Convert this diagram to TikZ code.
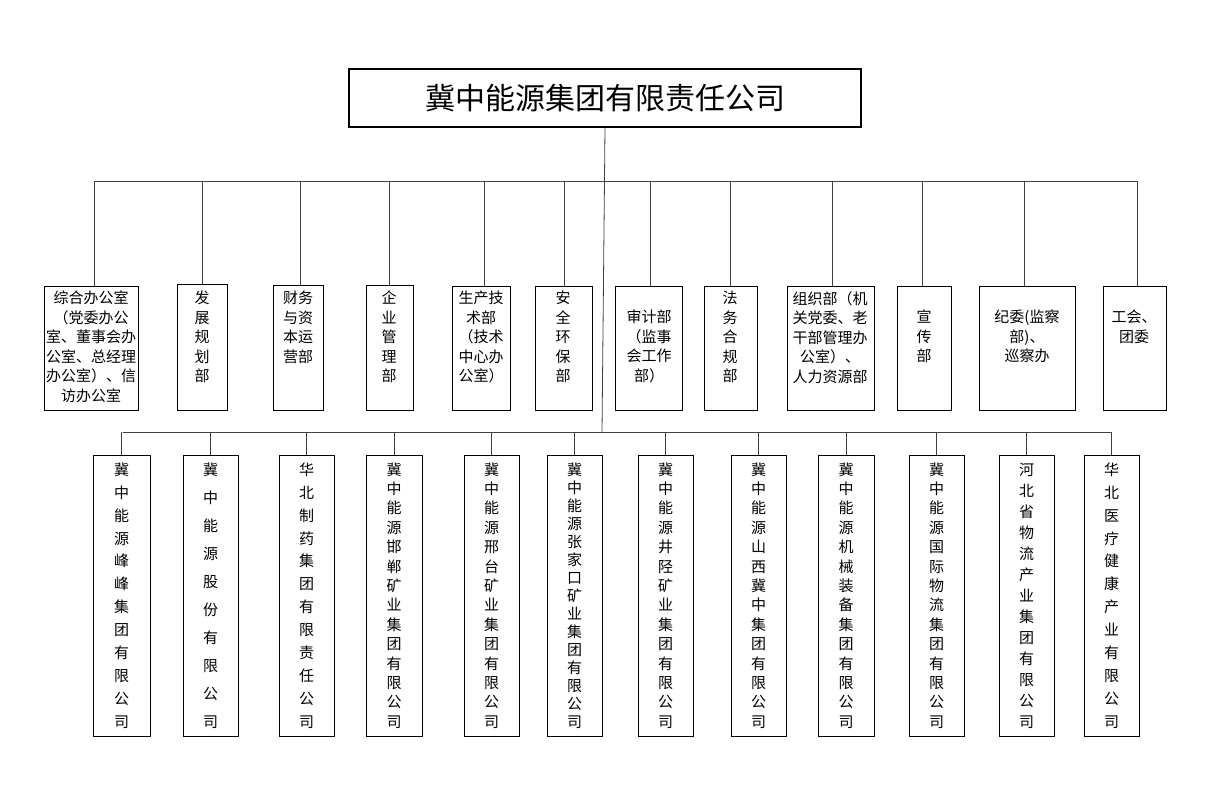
\documentclass[tikz,border=0pt]{standalone}
\usepackage{fontspec}
\setmainfont{Noto Sans CJK SC}
\begin{document}
\begin{tikzpicture}[x=1pt,y=-1pt,
  box/.style={draw=black,line width=0.9pt,rectangle,inner sep=0pt},
  ln/.style={draw=black!75,line width=0.8pt},
  mt/.style={anchor=north,align=center,inner sep=0pt,font=\fontsize{15}{19.5}\selectfont},
]
\useasboundingbox (0,0) rectangle (1210,799);
\node[box,line width=2.2pt,minimum width=512pt,minimum height=58pt,font=\fontsize{30}{34}\selectfont] (top) at (605,98) {冀中能源集团有限责任公司};
\coordinate (busA) at (602,181);
\coordinate (busB) at (602,432);
\draw[ln] (top.south) -- (busB);
\draw[ln] (94,181) -- (1137,181);
\draw[ln] (123,432) -- (1111,432);
% middle boxes: x1,x2,ytop,lineX
\foreach \i/\xa/\xb/\yt/\lx in {1/44/138/286/94,2/177/227/284/202,3/273/323/285/300,4/366/413/285/389,5/452/510/286/484,6/535/592/286/564,7/615/682/286/650,8/704/757/286/730,9/787/874/286/832,10/897/951/286/922,11/979/1075/286/1024,12/1103/1166/286/1137}{
  \node[box,minimum width={\xb-\xa},minimum height={410-\yt}] (m\i) at ({(\xa+\xb)/2},{(\yt+410)/2}) {};
  \draw[ln] (m\i.north -| \lx,0) -- (\lx,181);
}
\node[mt] (t1) at (91,291) {综合办公室\\（党委办公\\室、董事会办\\公室、总经理\\办公室）、信\\访办公室};
\node[mt] (t2) at (202,291) {发\\展\\规\\划\\部};
\node[mt] (t3) at (298,291) {财务\\与资\\本运\\营部};
\node[mt] (t4) at (389,291) {企\\业\\管\\理\\部};
\node[mt] (t5) at (481,291) {生产技\\术部\\（技术\\中心办\\公室）};
\node[mt] (t6) at (563,291) {安\\全\\环\\保\\部};
\node[mt] (t7) at (649,310) {审计部\\（监事\\会工作\\部）};
\node[mt] (t8) at (730,291) {法\\务\\合\\规\\部};
\node[mt] (t9) at (830,291) {组织部（机\\关党委、老\\干部管理办\\公室）、\\人力资源部};
\node[mt] (t10) at (924,310) {宣\\传\\部};
\node[mt] (t11) at (1027,310) {纪委(监察\\部)、\\巡察办};
\node[mt] (t12) at (1134,310) {工会、\\团委};
% bottom boxes
\foreach \i/\xa/\xb in {1/93/150,2/183/238,3/279/334,4/366/422,5/464/519,6/547/602,7/638/693,8/731/786,9/818/874,10/909/964,11/999/1054,12/1084/1139}{
  \node[box,minimum width={\xb-\xa},minimum height=281pt] (b\i) at ({(\xa+\xb)/2},595.5) {};
  \draw[ln] (b\i.north) -- (b\i.north |- busB);
}
\newcommand{\vtx}[4]{\node[align=center,inner sep=0pt,font=\fontsize{15}{#3}\selectfont] (#1) at (#2.center) {#4};}
\vtx{c1}{b1}{22.9}{冀\\中\\能\\源\\峰\\峰\\集\\团\\有\\限\\公\\司}
\vtx{c2}{b2}{28}{冀\\中\\能\\源\\股\\份\\有\\限\\公\\司}
\vtx{c3}{b3}{22.9}{华\\北\\制\\药\\集\\团\\有\\限\\责\\任\\公\\司}
\vtx{c4}{b4}{19.4}{冀\\中\\能\\源\\邯\\郸\\矿\\业\\集\\团\\有\\限\\公\\司}
\vtx{c5}{b5}{19.4}{冀\\中\\能\\源\\邢\\台\\矿\\业\\集\\团\\有\\限\\公\\司}
\vtx{c6}{b6}{18}{冀\\中\\能\\源\\张\\家\\口\\矿\\业\\集\\团\\有\\限\\公\\司}
\vtx{c7}{b7}{19.4}{冀\\中\\能\\源\\井\\陉\\矿\\业\\集\\团\\有\\限\\公\\司}
\vtx{c8}{b8}{19.4}{冀\\中\\能\\源\\山\\西\\冀\\中\\集\\团\\有\\限\\公\\司}
\vtx{c9}{b9}{19.4}{冀\\中\\能\\源\\机\\械\\装\\备\\集\\团\\有\\限\\公\\司}
\vtx{c10}{b10}{19.4}{冀\\中\\能\\源\\国\\际\\物\\流\\集\\团\\有\\限\\公\\司}
\vtx{c11}{b11}{21}{河\\北\\省\\物\\流\\产\\业\\集\\团\\有\\限\\公\\司}
\vtx{c12}{b12}{22.9}{华\\北\\医\\疗\\健\\康\\产\\业\\有\\限\\公\\司}
\end{tikzpicture}
\end{document}
